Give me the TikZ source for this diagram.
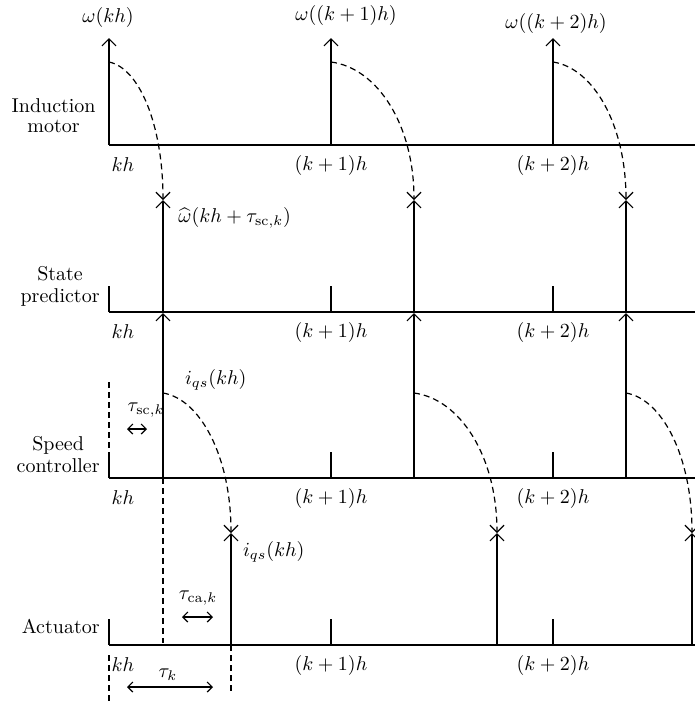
\documentclass[tikz,border=0pt]{standalone}
\usepackage{amsmath}
\usepackage{amssymb}
\usepackage{tikz}
\usetikzlibrary{arrows.meta}

\begin{document}
\begin{tikzpicture}[x=0.5pt, y=-0.5pt,
  timeline/.style={line width=0.6pt, -{Straight Barb[length=3.5pt,width=7pt]}},
  sig/.style={line width=0.6pt, -{Straight Barb[length=3.5pt,width=7pt]}},
  hop/.style={line width=0.6pt, dash pattern=on 3pt off 2pt,
              -{Straight Barb[length=3.5pt,width=7pt]}},
  guide/.style={line width=0.6pt, dash pattern=on 3pt off 2pt},
  stub/.style={line width=0.9pt},
  gap/.style={line width=0.6pt,
              {Straight Barb[length=2.5pt,width=5pt]}-{Straight Barb[length=2.5pt,width=5pt]}},
  rowname/.style={align=center, anchor=east, inner sep=1pt}]
  \useasboundingbox (0,0) rectangle (695,703);
  % time axes with their sample instants
  \foreach \r/\y in {im/145, sp/312, sc/478, ac/645} {
    \coordinate (\r) at (109,\y);
    \coordinate (\r end) at (705,\y);
    \draw[timeline] (\r) -- (\r end);
    \node at (123,\y+20) {$kh$};
    \node at (331,\y+20) {$(k+1)h$};
    \node at (553,\y+20) {$(k+2)h$};
  }
  \foreach \r/\y in {sp/312, sc/478, ac/645}
    \foreach \x [count=\j from 0] in {109,331,553} {
      \coordinate (\r t\j) at (\x,\y);
      \draw[stub] (\r t\j) -- ++(0,-26);
    }
  % row names
  \node[rowname] (nim) at (98,116) {Induction\\[-2pt]motor};
  \node[rowname] (nsp) at (102,286) {State\\[-1pt]predictor};
  \node[rowname] (nsc) at (102,455) {Speed\\[-1pt]controller};
  \node[rowname] (nac) at (102,626) {Actuator};
  % samples, predictions and control signals
  \foreach \i/\a/\b/\c/\m/\n in {0/109/163/231/30/37, 1/331/414/497/46/46, 2/553/626/692/40/36} {
    \coordinate (im\i) at (\a,145);
    \coordinate (w\i) at (\a,38);
    \coordinate (ws\i) at (\a,62);
    \coordinate (p\i) at (\b,200);
    \coordinate (sp\i) at (\b,313);
    \coordinate (sc\i) at (\b,478);
    \coordinate (u\i) at (\b,393);
    \coordinate (q\i) at (\c,533);
    \coordinate (ac\i) at (\c,645);
    \draw[sig] (im\i) -- (w\i);
    \draw[hop] (ws\i) .. controls +(\m,6) and +(0,-76) .. (p\i);
    \draw[sig] (sp\i) -- (p\i);
    \draw[sig] (sc\i) -- (sp\i);
    \draw[hop] (u\i) .. controls +(\n,6) and +(0,-77) .. (q\i);
    \draw[sig] (ac\i) -- (q\i);
  }
  \node (lw0) at (108,17) {$\omega(kh)$};
  \node (lw1) at (346,15) {$\omega((k+1)h)$};
  \node (lw2) at (556,23) {$\omega((k+2)h)$};
  \node[anchor=west, inner sep=1pt] (lp) at (176,218) {$\widehat{\omega}(kh+\tau_{\mathrm{sc},k})$};
  \node[anchor=west] (li) at (178,380) {$i_{qs}(kh)$};
  \node[anchor=west] (la) at (236,552) {$i_{qs}(kh)$};
  % delays
  \coordinate (d1a) at (109,382);
  \coordinate (d1b) at (109,452);
  \coordinate (d2b) at (163,643);
  \coordinate (d3a) at (109,655);
  \coordinate (d3b) at (109,703);
  \coordinate (d4b) at (231,693);
  \draw[guide] (d1a) -- (d1b);
  \draw[guide] (sc0) -- (d2b);
  \draw[guide] (d3a) -- (d3b);
  \draw[guide] (ac0) -- (d4b);
  \node (tsc) at (146,410) {$\tau_{\mathrm{sc},k}$};
  \node (tca) at (198,598) {$\tau_{\mathrm{ca},k}$};
  \node (tk) at (168,675) {$\tau_k$};
  \coordinate (g1a) at (127,429);
  \coordinate (g1b) at (147,429);
  \coordinate (g2a) at (182,617);
  \coordinate (g2b) at (213,617);
  \coordinate (g3a) at (127,687);
  \coordinate (g3b) at (213,687);
  \draw[gap] (g1a) -- (g1b);
  \draw[gap] (g2a) -- (g2b);
  \draw[gap] (g3a) -- (g3b);
\end{tikzpicture}
\end{document}
